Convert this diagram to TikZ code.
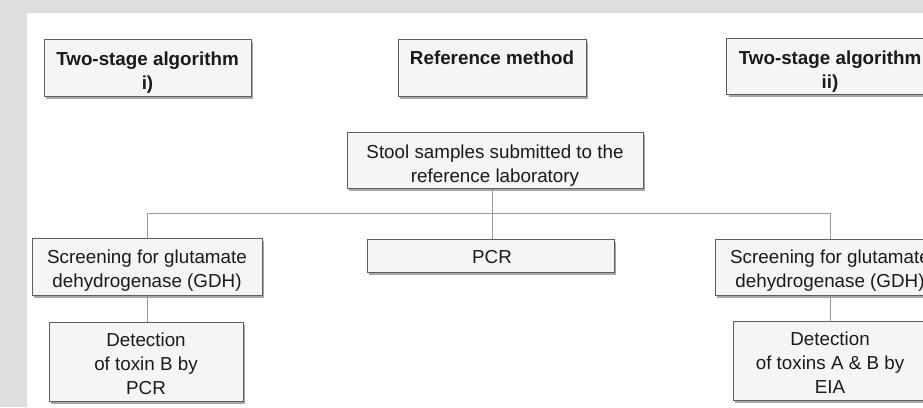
\documentclass[tikz,border=0pt]{standalone}
\usepackage{fontspec}
\setmainfont{Liberation Sans}
\usetikzlibrary{shadows}
\definecolor{bggrey}{HTML}{DEDEDE}
\definecolor{boxfill}{HTML}{F5F5F5}
\definecolor{boxline}{HTML}{5E5E5E}
\definecolor{conn}{HTML}{9A9A9A}
\definecolor{txt}{HTML}{1A1A1A}
\tikzset{
  box/.style={draw=boxline, line width=1pt, fill=boxfill, rectangle, inner sep=0pt,
    drop shadow={shadow xshift=2pt, shadow yshift=-2.5pt, fill=black, opacity=0.35}},
  boxtext/.style={align=center, text=txt, inner sep=0pt, yshift=-4pt,
    font=\fontsize{18.8}{24}\selectfont},
  headtext/.style={boxtext, font=\bfseries\fontsize{18.8}{24}\selectfont},
  connector/.style={draw=conn, line width=1pt}
}
\begin{document}
\begin{tikzpicture}[x=1pt, y=-1pt]
\path[use as bounding box] (0,0) rectangle (923,407);
\clip (0,0) rectangle (923,407);
\fill[bggrey] (0,0) rectangle (923,407);
\fill[white] (27,13) rectangle (930,420);

\node[box, minimum width=207pt, minimum height=57pt,
  label={[headtext, yshift=-1.5pt]center:{Two-stage algorithm\\i)}}] (h1) at (147.5,67.5) {};
\node[box, minimum width=188pt, minimum height=57pt,
  label={[headtext, yshift=13.5pt]center:{Reference method}}] (h2) at (492,67.5) {};
\node[box, minimum width=207pt, minimum height=56pt,
  label={[headtext, yshift=-1.5pt]center:{Two-stage algorithm\\ii)}}] (h3) at (830,66) {};

\node[box, minimum width=296pt, minimum height=56pt,
  label={[boxtext, yshift=-1.5pt]center:{Stool samples submitted to the\\reference laboratory}}] (stool) at (495,160) {};

\node[box, minimum width=230pt, minimum height=57pt,
  label={[boxtext]center:{Screening for glutamate\\dehydrogenase (GDH)}}] (gdhL) at (147,266.5) {};
\node[box, minimum width=247pt, minimum height=33pt,
  label={[boxtext, xshift=1.5pt, yshift=2pt]center:{PCR}}] (pcr) at (490.5,255.5) {};
\node[box, minimum width=230pt, minimum height=56pt,
  label={[boxtext]center:{Screening for glutamate\\dehydrogenase (GDH)}}] (gdhR) at (830,267) {};

\node[box, minimum width=194pt, minimum height=79pt,
  label={[boxtext, yshift=1.5pt]center:{Detection\\of toxin B by\\PCR}}] (detL) at (146,361.5) {};
\node[box, minimum width=194pt, minimum height=79pt,
  label={[boxtext, yshift=1.5pt]center:{Detection\\of toxins A \& B by\\EIA}}] (detR) at (830,360.5) {};

\coordinate (bus) at (492,213);
\draw[connector] (stool.south -| bus) -- (bus);
\draw[connector] (bus -| gdhL) -- (bus -| gdhR);
\draw[connector] (bus -| gdhL) -- (gdhL.north);
\draw[connector] (bus) -- (pcr.north -| bus);
\draw[connector] (bus -| gdhR) -- (gdhR.north);
\draw[connector] (gdhL.south) -- (detL.north -| gdhL);
\draw[connector] (gdhR.south) -- (detR.north);
\end{tikzpicture}
\end{document}
